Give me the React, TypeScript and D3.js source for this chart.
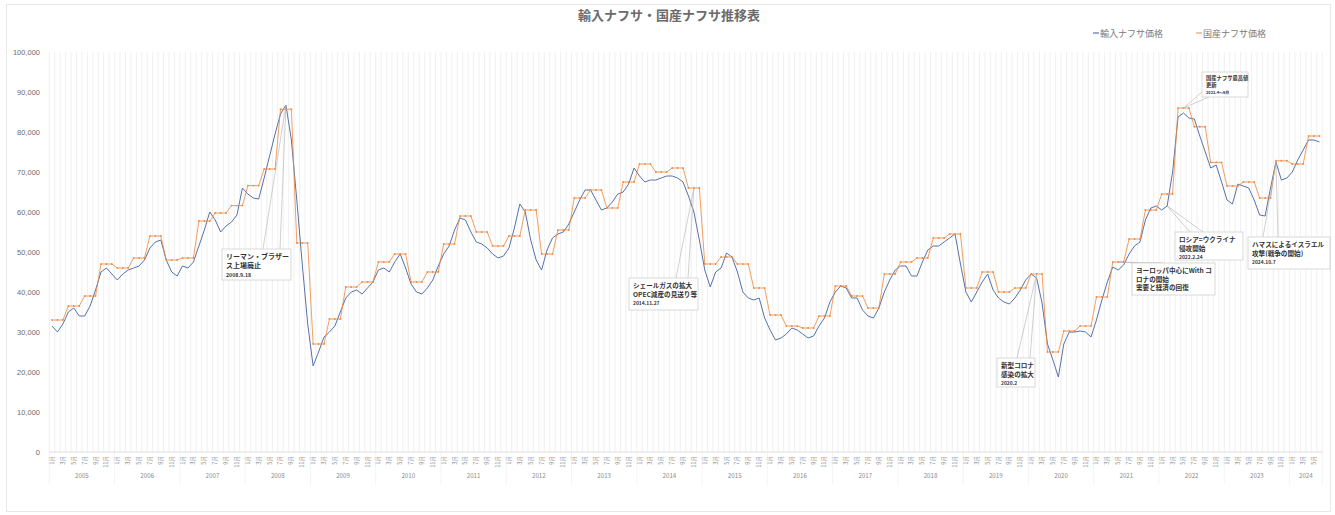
import * as React from 'react';
import * as d3 from 'd3';

// categories: monthly, Jan 2005 .. Jun 2024
const years = [2005, 2006, 2007, 2008, 2009, 2010, 2011, 2012, 2013, 2014, 2015, 2016, 2017, 2018, 2019, 2020, 2021, 2022, 2023, 2024];
const monthsInLastYear = 6;

// 輸入ナフサ価格 (yen/kl, monthly)
const importPrice = [
  31500, 30000, 32000, 35000, 36000, 34000, 34000, 36500, 40500, 45000, 46000, 44500, // 2005
  43000, 44500, 45500, 46000, 46500, 48000, 51000, 52500, 53000, 48000, 45000, 44000, // 2006
  46500, 46000, 47500, 51500, 55500, 60000, 58000, 55000, 56500, 57500, 59250, 66000, // 2007
  64500, 63500, 63250, 68500, 74000, 79500, 84500, 86750, 78000, 63000, 47000, 32000, // 2008
  21500, 25000, 28750, 30000, 31500, 35000, 38500, 40000, 40500, 39500, 41000, 42500, // 2009
  45500, 46000, 45000, 47500, 49500, 46000, 42000, 40000, 39500, 41000, 43000, 46500, // 2010
  49500, 51500, 55500, 58500, 58000, 55000, 52500, 52000, 51000, 49500, 48500, 49000, // 2011
  51000, 56000, 62000, 60000, 53000, 48000, 45500, 50500, 53500, 54500, 55000, 57000, // 2012
  60000, 63000, 65500, 65500, 63000, 60500, 61000, 62500, 64500, 65000, 67000, 71000, // 2013
  69000, 67500, 68000, 68000, 68500, 69000, 69000, 68500, 67500, 64000, 60000, 53000, // 2014
  45500, 41250, 45000, 46000, 49750, 48750, 45000, 40000, 38500, 38000, 38500, 33500, // 2015
  30500, 28000, 28500, 29500, 31000, 30500, 29500, 28500, 29000, 31500, 33500, 37500, // 2016
  40000, 41500, 41000, 38500, 38500, 35500, 34000, 33500, 36000, 40000, 43000, 45500, // 2017
  46500, 46500, 44000, 44000, 47500, 50500, 51500, 51500, 52500, 53500, 54500, 47000, // 2018
  40000, 37500, 40000, 42500, 44500, 40500, 38500, 37500, 37000, 38500, 40500, 43000, // 2019
  44500, 43500, 37250, 27000, 23000, 18750, 27000, 30000, 30000, 30250, 30000, 28750, // 2020
  33000, 38000, 42500, 46250, 45500, 46750, 49500, 51500, 52500, 58000, 61000, 61500, // 2021
  60500, 61500, 70000, 83750, 84750, 83500, 83250, 79000, 75000, 71000, 71750, 67500, // 2022
  63000, 62000, 67000, 66500, 66000, 63000, 59250, 59000, 66000, 72500, 68000, 68500, // 2023
  70000, 73000, 75500, 78000, 78000, 77500, // 2024
];

// 国産ナフサ価格 (yen/kl, quarterly price, same for each month of the quarter)
const domesticQuarterly = [
  33000, 36500, 39000, 47000, // 2005
  46000, 48500, 54000, 48000, // 2006
  48500, 57750, 59750, 61600, // 2007
  66600, 70750, 85700, 52250, // 2008
  27000, 33250, 41250, 42500, // 2009
  47500, 49500, 42500, 45000, // 2010
  52000, 59000, 55000, 51500, // 2011
  54000, 60500, 49500, 55500, // 2012
  63500, 65500, 61000, 67500, // 2013
  72000, 70000, 71000, 66000, // 2014
  47000, 48750, 47000, 41000, // 2015
  34250, 31500, 31000, 34000, // 2016
  41500, 39000, 36000, 44500, // 2017
  47500, 48500, 53500, 54500, // 2018
  41000, 45000, 40000, 41000, // 2019
  44500, 25000, 30250, 31500, // 2020
  38750, 47500, 53250, 60500, // 2021
  64500, 86000, 81300, 72400, // 2022
  66500, 67500, 63500, 72800, // 2023
  72000, 79000, // 2024
];

const yTicks = [0, 10000, 20000, 30000, 40000, 50000, 60000, 70000, 80000, 90000, 100000];
const labelMonths = [1, 3, 5, 7, 9, 11];

const seriesNames = ['輸入ナフサ価格', '国産ナフサ価格'];

const notes = [
  { lines: ['リーマン・ブラザー', 'ス上場廃止'], date: '2008.9.18', month: 43, series: 0, box: [222, 249, 69, 31], from: [[263, 249], [280, 249]], size: 7 },
  { lines: ['シェールガスの拡大', 'OPEC減産の見送り等'], date: '2014.11.27', month: 118, series: 1, box: [629, 278, 69, 32], from: [[676, 278], [688, 278]], size: 6.6 },
  { lines: ['新型コロナ', '感染の拡大'], date: '2020.2', month: 181, series: 1, box: [997, 358, 38, 29], from: [[1017, 358], [1030, 358]], size: 6.6 },
  { lines: ['ヨーロッパ中心にWith コ', 'ロナの開始'], extra: '需要と経済の回復', date: '', month: 196, series: 1, box: [1132, 263, 83, 32], from: [[1138, 263], [1163, 263]], size: 6.6 },
  { lines: ['ロシア=ウクライナ', '侵攻開始'], date: '2022.2.24', month: 205, series: 0, box: [1175, 232, 68, 28], from: [[1190, 232], [1203, 232]], size: 6.6 },
  { lines: ['ハマスによるイスラエル', '攻撃(戦争の開始)'], date: '2024.10.7', month: 225, series: 0, box: [1248, 237, 82, 32], from: [[1263, 237], [1278, 237]], size: 6.6 },
  { lines: ['国産ナフサ最高値', '更新'], date: '2022.4～6月', month: 208, series: 1, box: [1202, 72, 46, 25], from: [[1202, 92], [1209, 97]], size: 5.3 },
];

const W = 1335;
const H = 515;
const BLUE = '#5673ab';
const ORANGE = '#f0863a';
const GREY = '#6b6b6b';
const FONT = "'Noto Sans CJK JP', 'Noto Sans', sans-serif";

export default function App() {
  const categories: { year: number; month: number }[] = [];
  years.forEach((yr, k) => {
    const n = k === years.length - 1 ? monthsInLastYear : 12;
    for (let m = 1; m <= n; m++) categories.push({ year: yr, month: m });
  });
  const domesticPrice = categories.map((_, i) => domesticQuarterly[Math.floor(i / 3)]);

  const x = d3.scaleBand<number>()
    .domain(categories.map((_, i) => i))
    .range([49.3, 1322.2])
    .paddingInner(0);
  const bw = x.bandwidth();
  const cx = (i: number) => (x(i) ?? 0) + bw / 2;

  const y = d3.scaleLinear().domain([0, 100000]).range([452, 52]);

  const line = d3.line<number>().x((_, i) => cx(i)).y(d => y(d));
  const fmt = d3.format(',');
  const series = [importPrice, domesticPrice];

  return (
    <div style={{ position: 'absolute', left: 0, top: 0 }}>
      <svg width={W} height={H} style={{ display: 'block', fontFamily: FONT }}>
        <rect x={0} y={0} width={W} height={H} fill="#fff" />
        <rect x={6.5} y={4.5} width={1324} height={507} fill="none" stroke="#e8e8e8" />

        <text x={669} y={20} textAnchor="middle" fontSize={13} fontWeight="bold" fill={GREY}>
          輸入ナフサ・国産ナフサ推移表
        </text>

        {/* legend */}
        <g fontSize={9} fill="#7a7a7a">
          <line x1={1093} x2={1099} y1={33} y2={33} stroke={BLUE} strokeWidth={1.2} />
          <text x={1100} y={36.5}>{seriesNames[0]}</text>
          <line x1={1196} x2={1202} y1={33} y2={33} stroke={ORANGE} strokeWidth={1} />
          <text x={1203} y={36.5}>{seriesNames[1]}</text>
        </g>

        {/* vertical gridlines, one per category */}
        <g stroke="#e9e9e9" strokeWidth={0.7}>
          {categories.map((_, i) => (
            <line key={i} x1={x(i)} x2={x(i)} y1={y(100000)} y2={y(0)} />
          ))}
          <line x1={1322.2} x2={1322.2} y1={y(100000)} y2={y(0)} />
        </g>
        <line x1={49.3} x2={1322.2} y1={y(0)} y2={y(0)} stroke="#dcdcdc" />

        {/* y axis labels */}
        <g fontSize={7.5} fill={GREY} textAnchor="end" fontFamily="'Liberation Sans', Arial, sans-serif">
          {yTicks.map(t => (
            <text key={t} x={40} y={y(t) + 2.7}>{fmt(t)}</text>
          ))}
        </g>

        {/* month labels */}
        <g fontSize={5.6} fill="#8c8c8c">
          {categories.map((c, i) => labelMonths.includes(c.month) ? (
            <text key={i} transform={`translate(${cx(i) + 2},${456}) rotate(-90)`} textAnchor="end">
              {c.month}月
            </text>
          ) : null)}
        </g>

        {/* year groups */}
        <g fontSize={6.2} fill="#8c8c8c">
          {years.map(yr => {
            const idx = categories.map((c, i) => (c.year === yr ? i : -1)).filter(i => i >= 0);
            const x0 = x(idx[0]) ?? 0;
            const x1 = (x(idx[idx.length - 1]) ?? 0) + bw;
            return (
              <g key={yr}>
                <line x1={x0} x2={x0} y1={452} y2={485} stroke="#efefef" strokeWidth={0.7} />
                <text x={(x0 + x1) / 2} y={478} textAnchor="middle">{yr}</text>
              </g>
            );
          })}
          <line x1={1322.2} x2={1322.2} y1={452} y2={485} stroke="#efefef" strokeWidth={0.7} />
        </g>

        {/* series */}
        <path d={line(importPrice) ?? ''} fill="none" stroke={BLUE} strokeWidth={1} />
        <path d={line(domesticPrice) ?? ''} fill="none" stroke={ORANGE} strokeWidth={0.8} />
        <g fill={ORANGE} opacity={0.9}>
          {domesticPrice.map((v, i) => (
            <circle key={i} cx={cx(i)} cy={y(v)} r={0.95} />
          ))}
        </g>

        {/* callouts */}
        {notes.map((n, k) => {
          const tx = cx(n.month);
          const ty = y(series[n.series][n.month]);
          const [bx, by, bwd, bh] = n.box;
          const lh = n.size * 1.35;
          return (
            <g key={k}>
              {n.from.map(([fx, fy], j) => (
                <line key={j} x1={fx} y1={fy} x2={tx} y2={ty} stroke="#b0b0b0" strokeWidth={0.6} />
              ))}
              <rect x={bx} y={by} width={bwd} height={bh} fill="#fff" stroke="#c8c8c8" strokeWidth={0.7} />
              <g fontWeight="bold" fill="#333">
                {n.lines.map((t, j) => (
                  <text key={j} x={bx + 4} y={by + 3 + n.size + j * lh} fontSize={n.size}>{t}</text>
                ))}
                {n.extra ? (
                  <text x={bx + 4} y={by + 3 + n.size + 2 * lh} fontSize={n.size}>{n.extra}</text>
                ) : null}
                {n.date ? (
                  <text x={bx + 4} y={by + 3 + n.size + 2 * lh - 0.5} fontSize={n.size * 0.75}>{n.date}</text>
                ) : null}
              </g>
            </g>
          );
        })}
      </svg>
    </div>
  );
}
